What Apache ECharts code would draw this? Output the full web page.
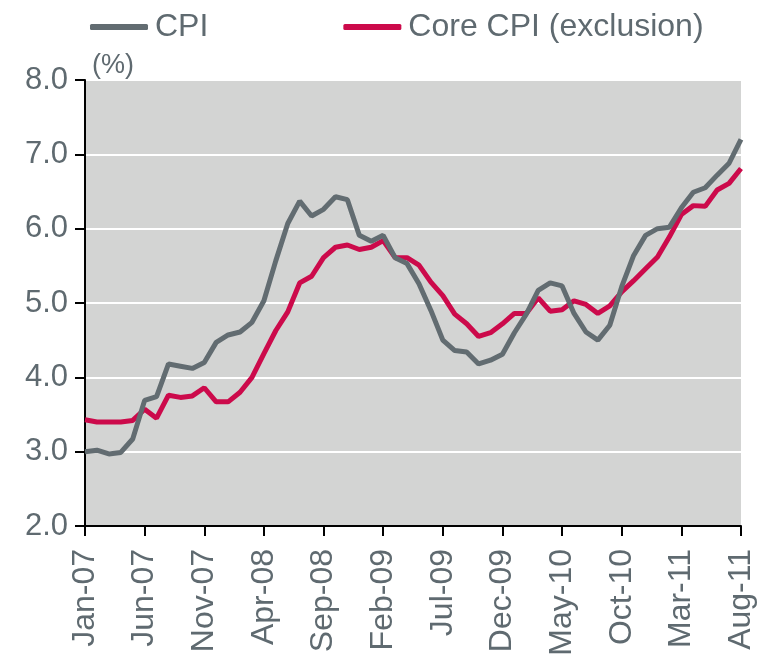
<!DOCTYPE html>
<html>
<head>
<meta charset="utf-8">
<title>CPI vs Core CPI</title>
<script src="https://cdn.jsdelivr.net/npm/echarts@6/dist/echarts.min.js"></script>
<style>
  html, body { margin: 0; padding: 0; background: #fff; }
  #chart { width: 757px; height: 656px; }
</style>
</head>
<body>
<div id="chart"></div>
<script>
// monthly, Jan-07 .. Aug-11
const monthNames = ['Jan', 'Feb', 'Mar', 'Apr', 'May', 'Jun', 'Jul', 'Aug', 'Sep', 'Oct', 'Nov', 'Dec'];
const years = ['07', '08', '09', '10', '11'];
const months = [];
years.forEach(y => monthNames.forEach(m => months.push(m + '-' + y)));
months.length = 56;

const cpi = [
  3.00, 3.02, 2.97, 2.99, 3.17, 3.69, 3.74, 4.18, 4.15, 4.12,
  4.20, 4.47, 4.57, 4.61, 4.74, 5.03, 5.57, 6.07, 6.37, 6.17,
  6.26, 6.43, 6.39, 5.91, 5.83, 5.91, 5.61, 5.53, 5.26, 4.90,
  4.50, 4.36, 4.34, 4.18, 4.23, 4.31, 4.60, 4.85, 5.17, 5.27,
  5.23, 4.86, 4.61, 4.50, 4.70, 5.22, 5.64, 5.91, 6.00, 6.02,
  6.28, 6.49, 6.55, 6.72, 6.88, 7.20
];
const coreCpi = [
  3.43, 3.40, 3.40, 3.40, 3.42, 3.57, 3.45, 3.76, 3.73, 3.75,
  3.86, 3.67, 3.67, 3.80, 4.00, 4.32, 4.63, 4.88, 5.27, 5.36,
  5.61, 5.75, 5.78, 5.72, 5.75, 5.84, 5.61, 5.61, 5.51, 5.28,
  5.10, 4.85, 4.72, 4.55, 4.60, 4.72, 4.86, 4.86, 5.07, 4.89,
  4.91, 5.03, 4.98, 4.86, 4.96, 5.15, 5.30, 5.46, 5.62, 5.89,
  6.19, 6.31, 6.30, 6.52, 6.61, 6.81
];

const font = '"Liberation Sans", Arial, Helvetica, sans-serif';
const textGray = '#5f6a70';
const cpiGray = '#626c71';
const coreRed = '#cc0a4b';

const chart = echarts.init(document.getElementById('chart'));

chart.setOption({
  animation: false,
  textStyle: { fontFamily: font },
  grid: {
    left: 85, right: 16, top: 80, bottom: 130,
    outerBoundsMode: 'none',
    containLabel: false,
    show: true,
    backgroundColor: '#d3d4d3',
    borderWidth: 0
  },
  legend: {
    left: 85, top: 6,
    itemWidth: 58, itemHeight: 6,
    itemGap: 135,
    icon: 'roundRect',
    textStyle: { fontSize: 32, color: textGray, fontFamily: font, padding: [0, 0, 0, 2] },
    data: ['CPI', 'Core CPI (exclusion)']
  },
  graphic: [{
    type: 'text',
    left: 92, top: 52,
    style: { text: '(%)', fontSize: 27, fill: textGray, fontFamily: font }
  }],
  xAxis: {
    type: 'category',
    data: months,
    boundaryGap: false,
    axisLine: { lineStyle: { color: '#000', width: 2 } },
    axisTick: { interval: 4, length: 10, lineStyle: { color: '#000', width: 2 } },
    axisLabel: {
      interval: 4, rotate: 90, margin: 23,
      fontSize: 32, color: textGray, fontFamily: font
    },
    splitLine: { show: false }
  },
  yAxis: {
    type: 'value',
    min: 2, max: 8, interval: 1,
    axisLine: { show: true, lineStyle: { color: '#000', width: 2 } },
    axisTick: { show: true, length: 10, lineStyle: { color: '#000', width: 2 } },
    axisLabel: {
      margin: 17, fontSize: 31, color: textGray, fontFamily: font,
      formatter: v => v.toFixed(1)
    },
    splitLine: { lineStyle: { color: '#fff', width: 2 } }
  },
  series: [
    {
      name: 'CPI',
      type: 'line',
      data: cpi,
      showSymbol: false,
      z: 3,
      lineStyle: { color: cpiGray, width: 5 },
      itemStyle: { color: cpiGray }
    },
    {
      name: 'Core CPI (exclusion)',
      type: 'line',
      data: coreCpi,
      showSymbol: false,
      z: 2,
      lineStyle: { color: coreRed, width: 5 },
      itemStyle: { color: coreRed }
    }
  ]
});
</script>
</body>
</html>
